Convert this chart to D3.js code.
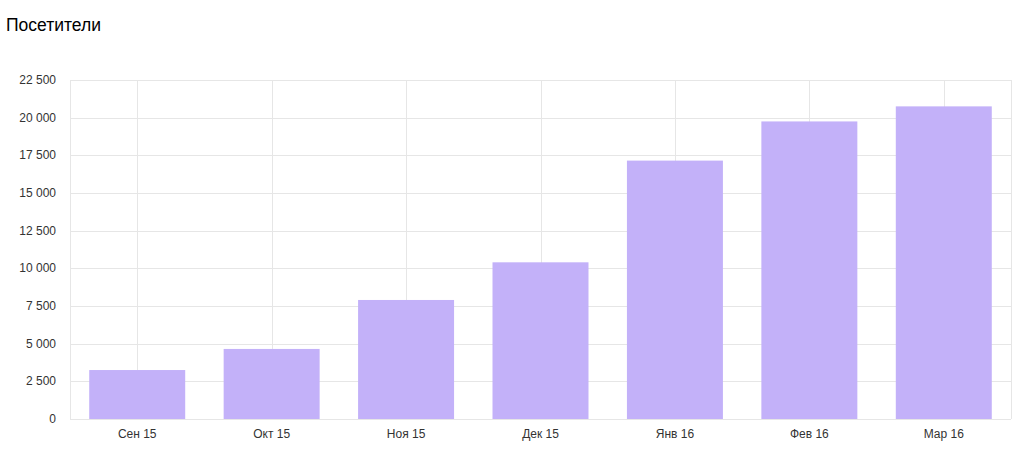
<!DOCTYPE html>
<html>
<head>
<meta charset="utf-8">
<script src="https://cdn.jsdelivr.net/npm/d3@7"></script>
<style>
  body { margin: 0; background: #fff; }
  svg { font-family: "Liberation Sans", Arial, sans-serif; }
</style>
</head>
<body>
<svg width="1024" height="460"></svg>
<script>
// data
const months = ["Сен 15", "Окт 15", "Ноя 15", "Дек 15", "Янв 16", "Фев 16", "Мар 16"];
const visitors = [3250, 4650, 7900, 10400, 17150, 19750, 20750];
const yTicks = [0, 2500, 5000, 7500, 10000, 12500, 15000, 17500, 20000, 22500];

const plotLeft = 70, plotRight = 1011, plotTop = 80, plotBottom = 419;

const svg = d3.select("svg");

const x = d3.scaleBand()
    .domain(months)
    .range([plotLeft, plotRight])
    .paddingInner(0.286)
    .paddingOuter(0.143);

const y = d3.scaleLinear()
    .domain([0, 22500])
    .range([plotBottom, plotTop]);

const fmt = d3.formatLocale({decimal: ",", thousands: " ", grouping: [3], currency: ["", ""]}).format(",d");

// grid
svg.append("g").selectAll("line")
  .data(yTicks)
  .enter().append("line")
    .attr("x1", plotLeft).attr("x2", plotRight)
    .attr("y1", d => Math.round(y(d)) + 0.5)
    .attr("y2", d => Math.round(y(d)) + 0.5)
    .attr("stroke", "#e6e6e6");

svg.append("g").selectAll("line")
  .data(months)
  .enter().append("line")
    .attr("x1", d => Math.round(x(d) + x.bandwidth() / 2) + 0.5)
    .attr("x2", d => Math.round(x(d) + x.bandwidth() / 2) + 0.5)
    .attr("y1", plotTop).attr("y2", plotBottom)
    .attr("stroke", "#e6e6e6");

// frame sides
svg.append("line")
    .attr("x1", plotLeft + 0.5).attr("x2", plotLeft + 0.5)
    .attr("y1", plotTop).attr("y2", plotBottom)
    .attr("stroke", "#e6e6e6");
svg.append("line")
    .attr("x1", plotRight + 0.5).attr("x2", plotRight + 0.5)
    .attr("y1", plotTop).attr("y2", plotBottom)
    .attr("stroke", "#e6e6e6");

// bars
svg.append("g").selectAll("rect")
  .data(visitors)
  .enter().append("rect")
    .attr("x", (d, i) => x(months[i]))
    .attr("y", d => y(d))
    .attr("width", x.bandwidth())
    .attr("height", d => plotBottom - y(d))
    .attr("fill", "#c3b1f9");

// y labels
svg.append("g").selectAll("text")
  .data(yTicks)
  .enter().append("text")
    .attr("x", 56)
    .attr("y", d => y(d) + 4)
    .attr("text-anchor", "end")
    .attr("font-size", "12px")
    .attr("fill", "#333")
    .text(d => fmt(d));

// x labels
svg.append("g").selectAll("text")
  .data(months)
  .enter().append("text")
    .attr("x", d => x(d) + x.bandwidth() / 2)
    .attr("y", 438)
    .attr("text-anchor", "middle")
    .attr("font-size", "12px")
    .attr("fill", "#333")
    .text(d => d);

// title
svg.append("text")
    .attr("x", 6)
    .attr("y", 31)
    .attr("font-size", "17.5px")
    .attr("fill", "#000")
    .text("Посетители");
</script>
</body>
</html>
